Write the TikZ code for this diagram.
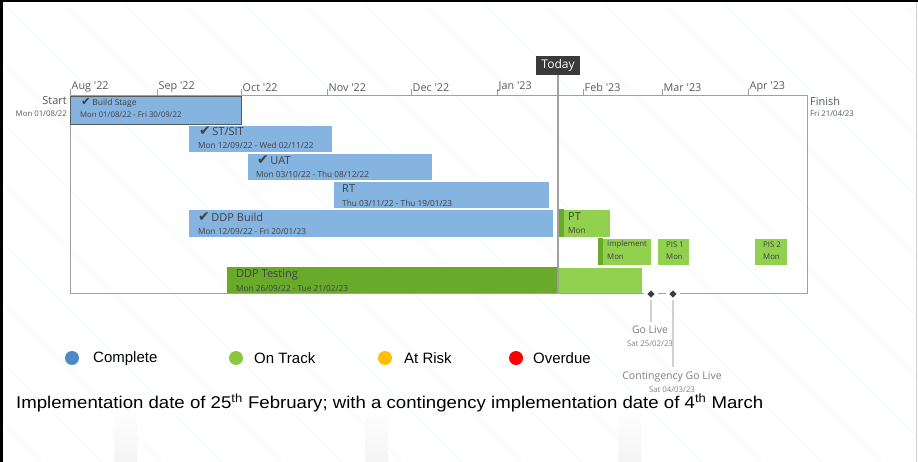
\documentclass[tikz,border=0pt]{standalone}
\usepackage{fontspec}
\setmainfont{Liberation Sans}
\newfontfamily\seg{Open Sans}
\newfontfamily\sym{DejaVu Sans}
\usetikzlibrary{shapes.geometric}
\definecolor{cblue}{HTML}{86B4E0}
\definecolor{lgreen}{HTML}{92D050}
\definecolor{dgreen}{HTML}{6AAA2A}
\definecolor{txt}{HTML}{404040}
\definecolor{axisc}{HTML}{A0A0A0}
\definecolor{lbl}{HTML}{595959}
\definecolor{msc}{HTML}{7F7F7F}
\definecolor{leadc}{HTML}{D0D0D0}
\definecolor{todayc}{HTML}{3A3A3A}
\definecolor{legblue}{HTML}{4E88C7}
\definecolor{leggreen}{HTML}{8DC63F}
\definecolor{leggold}{HTML}{FFC000}
\definecolor{legred}{HTML}{FF0000}
\definecolor{bgline}{HTML}{EFFAFA}
\definecolor{strip}{HTML}{F4F4F4}
\tikzset{
  bar/.style={anchor=north west, inner sep=0pt, outer sep=0pt, draw=white, line width=0.6pt},
  title/.style={anchor=west, inner sep=0pt, text=txt, font=\seg\fontsize{11}{12}\selectfont},
  smalltitle/.style={anchor=west, inner sep=0pt, text=txt, font=\seg\fontsize{8.5}{10}\selectfont},
  dates/.style={anchor=west, inner sep=0pt, text=txt, font=\seg\fontsize{8.3}{10}\selectfont},
  tiny/.style={anchor=west, inner sep=0pt, text=txt, font=\seg\fontsize{7.8}{9}\selectfont},
  month/.style={anchor=south west, inner sep=0pt, text=lbl, font=\seg\fontsize{10.8}{12}\selectfont},
  endlbl/.style={inner sep=0pt, text=lbl, font=\seg\fontsize{11}{12}\selectfont},
  enddate/.style={inner sep=0pt, text=lbl, font=\seg\fontsize{7.8}{9}\selectfont},
  mslbl/.style={inner sep=0pt, text=msc, font=\seg\fontsize{10.5}{12}\selectfont},
  msdate/.style={inner sep=0pt, text=msc, font=\seg\fontsize{7.8}{9}\selectfont},
  axisline/.style={draw=axisc, line width=1pt},
  leader/.style={draw=leadc, line width=2pt},
  ms/.style={diamond, fill=txt, minimum size=7.5pt, inner sep=0pt},
  dot/.style={circle, minimum size=14pt, inner sep=0pt},
  leg/.style={anchor=west, inner sep=0pt, font=\fontsize{15}{17}\selectfont}
}
\newcommand{\ck}[1]{{\sym\fontsize{#1}{#1}\selectfont\char"2714}\kern1.5pt}
\begin{document}
\begin{tikzpicture}[x=1pt,y=-1pt]
\useasboundingbox (0,0) rectangle (918,462);
\fill[white] (0,0) rectangle (918,462);
% background decoration
\begin{scope}
\clip (0,0) rectangle (918,462);
\foreach \i in {-480,-420,...,900} \draw[bgline, line width=0.6pt] (\i,0) -- (\i+462,462);
\foreach \sx in {114,365,618} \shade[top color=white, bottom color=strip] (\sx,408) rectangle (\sx+23,462);
\end{scope}
\fill[black] (0,0) rectangle (918,2.5);
\fill[black] (0,0) rectangle (3,462);
\draw[leadc, line width=0.8pt] (916.5,2.5) -- (916.5,462);

% chart frame
\draw[axisline] (70,96) -- (807,96) -- (807,294);
\draw[axisline] (70,96) -- (70,294);
\foreach \mx/\mt in {70/Aug '22,157/Sep '22,241/Oct '22,327/Nov '22,411/Dec '22,497/Jan '23,583/Feb '23,662/Mar '23,748/Apr '23}{
  \draw[axisline, line width=0.8pt] (\mx,89) -- (\mx,96);
  \node[month] at (\mx+1.5,92) {\mt};
}
\node[endlbl, anchor=east] (startL) at (67,101) {Start};
\node[enddate, anchor=east] (startD) at (67,114) {Mon 01/08/22};
\node[endlbl, anchor=west] (finL) at (810,101) {Finish};
\node[enddate, anchor=west] (finD) at (810,114) {Fri 21/04/23};

% bars
\node[bar, fill=cblue, minimum width=171pt, minimum height=28pt, draw=lbl, line width=1.3pt] (bBuild) at (70.6,96.6) {};
\node[smalltitle] (tBuild) at (81,102.5) {\ck{11.5}Build Stage};
\node[tiny] (dBuild) at (80,115) {Mon 01/08/22 - Fri 30/09/22};

\node[bar, fill=cblue, minimum width=144pt, minimum height=27pt] (bSIT) at (188,125) {};
\node[title] (tSIT) at (199,131.5) {\ck{14}ST/SIT};
\node[dates] (dSIT) at (198,145.5) {Mon 12/09/22 - Wed 02/11/22};

\node[bar, fill=cblue, minimum width=185pt, minimum height=27pt] (bUAT) at (247,153) {};
\node[title] (tUAT) at (257,160) {\ck{14}UAT};
\node[dates] (dUAT) at (256,174) {Mon 03/10/22 - Thu 08/12/22};

\node[bar, fill=cblue, minimum width=216pt, minimum height=27pt] (bRT) at (333,181) {};
\node[title] (tRT) at (342,189) {RT};
\node[dates] (dRT) at (342,203) {Thu 03/11/22 - Thu 19/01/23};

\node[bar, fill=cblue, minimum width=365pt, minimum height=28pt] (bDDP) at (188,209) {};
\node[title] (tDDP) at (198,217) {\ck{14}DDP Build};
\node[dates] (dDDP) at (198,231) {Mon 12/09/22 - Fri 20/01/23};

\node[bar, fill=lgreen, minimum width=52pt, minimum height=28pt] (bPT) at (558,209) {};
\fill[dgreen] (558.3,209.3) rectangle (563.5,236.7);
\node[title] (tPT) at (568,217) {PT};
\node[dates] (dPT) at (568,231) {Mon};

\node[bar, fill=lgreen, minimum width=53pt, minimum height=27pt] (bImp) at (598,238) {};
\fill[dgreen] (598.3,238.3) rectangle (602.5,264.7);
\node[tiny] (tImp) at (607,244.5) {Implement};
\node[tiny] (dImp) at (607,257) {Mon};

\node[bar, fill=lgreen, minimum width=32pt, minimum height=27pt] (bPIS1) at (657,238) {};
\node[tiny] (tPIS1) at (666,244.5) {PIS 1};
\node[tiny] (dPIS1) at (666,257) {Mon};

\node[bar, fill=lgreen, minimum width=33pt, minimum height=27pt] (bPIS2) at (754,238) {};
\node[tiny] (tPIS2) at (763,244.5) {PIS 2};
\node[tiny] (dPIS2) at (763,257) {Mon};

\node[bar, fill=lgreen, minimum width=415pt, minimum height=27pt] (bTest) at (227,267) {};
\fill[dgreen] (227.3,267.3) rectangle (558,294);
\node[title] (tTest) at (236,275) {DDP Testing};
\node[dates] (dTest) at (236,288.5) {Mon 26/09/22 - Tue 21/02/23};

% bottom axis with gaps
\draw[axisline] (70,294) -- (644,294);
\draw[axisline] (658,294) -- (666,294);
\draw[axisline] (680,294) -- (807,294);

% today
\node[fill=todayc, text=white, font=\seg\fontsize{12}{12}\selectfont, minimum width=44pt, minimum height=19pt, inner sep=0pt, anchor=north] (today) at (558,56) {Today};
\coordinate (todayEnd) at (558,294);
\draw[draw=axisc, line width=1.2pt] (today.south) -- (todayEnd);

% milestones
\node[ms] (goLive) at (651,294) {};
\node[ms] (contLive) at (673,294) {};
\node[mslbl] (goL) at (650,330) {Go Live};
\node[msdate] (goD) at (650,344) {Sat 25/02/23};
\node[mslbl] (contL) at (672,376.5) {Contingency Go Live};
\node[msdate] (contD) at (672,389.5) {Sat 04/03/23};
\draw[leader, shorten <=2.5pt] (goLive.south) -- (651,322);
\draw[leader, shorten <=2.5pt] (contLive.south) -- (673,367);

% legend
\node[dot, fill=legblue] (dC) at (72,358) {};
\node[leg] (lC) at (93,358.5) {Complete};
\node[dot, fill=leggreen] (dO) at (236,358) {};
\node[leg] (lO) at (254,358.5) {On Track};
\node[dot, fill=leggold] (dA) at (385,358) {};
\node[leg] (lA) at (404,358.5) {At Risk};
\node[dot, fill=legred] (dV) at (516,358) {};
\node[leg] (lV) at (533,358.5) {Overdue};

% note
\node[anchor=west, inner sep=0pt, font=\fontsize{17}{19}\selectfont] (note) at (16,403) {\scalebox{1.095}[1]{Implementation date of 25\textsuperscript{th} February; with a contingency implementation date of 4\textsuperscript{th} March}};
\end{tikzpicture}
\end{document}
